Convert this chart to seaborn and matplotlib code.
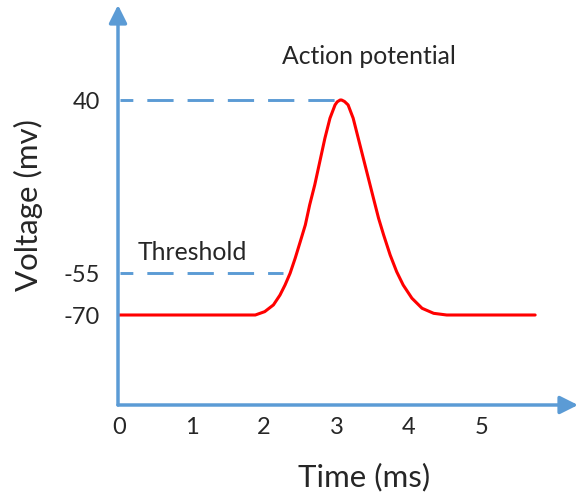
import numpy as np
import matplotlib
matplotlib.use('Agg')
import matplotlib.pyplot as plt
import seaborn as sns

# membrane voltage trace (ms, mV)
time_ms = [0, 1.74, 1.88, 2.01, 2.13, 2.22, 2.29, 2.36, 2.43, 2.50, 2.57, 2.63,
           2.70, 2.77, 2.84, 2.91, 2.98, 3.01, 3.05, 3.07, 3.11, 3.16, 3.23,
           3.30, 3.37, 3.44, 3.51, 3.58, 3.65, 3.74, 3.83, 3.92, 4.04, 4.18,
           4.34, 4.52, 5.74]
voltage_mv = [-70, -70, -70, -68.8, -66.4, -62.9, -59.3, -55.1, -46.9, -37.8, -28.6, -17.6,
              -6.6, 6.2, 19.0, 30.0, 37.3, 39.0, 40, 40, 39.2, 37.3, 30.0,
              19.0, 8.0, -3.0, -14.0, -24.9, -34.1, -45.1, -54.3, -59.3, -64.0, -67.6,
              -69.4, -70, -70]

peak_mv = 40
threshold_mv = -55
peak_line_x = [0.02, 3.0]
threshold_line_x = [0.02, 2.26]

x_ticks = [0, 1, 2, 3, 4, 5]
y_ticks = [40, -55, -70]

blue = '#5B9BD5'

# the y axis of the sketch is not to scale: piecewise linear mapping
v_pts = [-1000, -70, -55, 40, 1000]
h_pts = [90 - 930 * 2.8, 90, 132, 305, 305 + 960 * 1.82]

def fwd(v):
    return np.interp(v, v_pts, h_pts)

def inv(h):
    return np.interp(h, h_pts, v_pts)

sns.set_style('white')
plt.rcParams['font.family'] = ['Lato', 'DejaVu Sans']

fig = plt.figure(figsize=(5.78, 4.92), dpi=100)
ax = fig.add_axes([118 / 578, 87 / 492, 460 / 578, 400 / 492])
ax.set_yscale('function', functions=(fwd, inv))

sns.lineplot(x=time_ms, y=voltage_mv, color='red', linewidth=2.2, ax=ax)
ax.plot(peak_line_x, [peak_mv, peak_mv], color=blue, linewidth=2.1,
        linestyle=(4.6, (9.0, 4.8)), solid_capstyle='butt')
ax.plot(threshold_line_x, [threshold_mv, threshold_mv], color=blue, linewidth=2.1,
        linestyle=(4.6, (9.0, 4.8)), solid_capstyle='butt')

xmax = (578 - 119) / 72.5
ax.set_xlim(-1 / 72.5, xmax)
ax.set_ylim(inv(0), inv(400))

for s in ax.spines.values():
    s.set_visible(False)

# axes drawn as arrows
ax.annotate('', xy=(1, 0), xytext=(0, 0), xycoords='axes fraction',
            arrowprops=dict(arrowstyle='-|>', color=blue, lw=2.5,
                            mutation_scale=27, shrinkA=0, shrinkB=0))
ax.annotate('', xy=(0, 1), xytext=(0, 0), xycoords='axes fraction',
            arrowprops=dict(arrowstyle='-|>', color=blue, lw=2.5,
                            mutation_scale=27, shrinkA=0, shrinkB=0))

ax.set_xticks(x_ticks)
ax.set_xticklabels([str(t) for t in x_ticks])
ax.set_yticks(y_ticks)
ax.set_yticklabels([str(t) for t in y_ticks])
ax.tick_params(axis='x', length=0, pad=9, labelsize=17)
ax.tick_params(axis='y', length=0, pad=13, labelsize=17)
ax.minorticks_off()

ax.set_xlabel('Time (ms)', fontsize=22.5)
ax.set_ylabel('Voltage (mv)', fontsize=22.5)
ax.xaxis.set_label_coords(0.535, -0.145)
ax.yaxis.set_label_coords(-0.163, 0.5)

ax.text(2.25, 63.7, 'Action potential', fontsize=17.8, va='center', ha='left')
ax.text(0.26, -43.5, 'Threshold', fontsize=17.8, va='center', ha='left')

fig.savefig('out.png', dpi=100)
